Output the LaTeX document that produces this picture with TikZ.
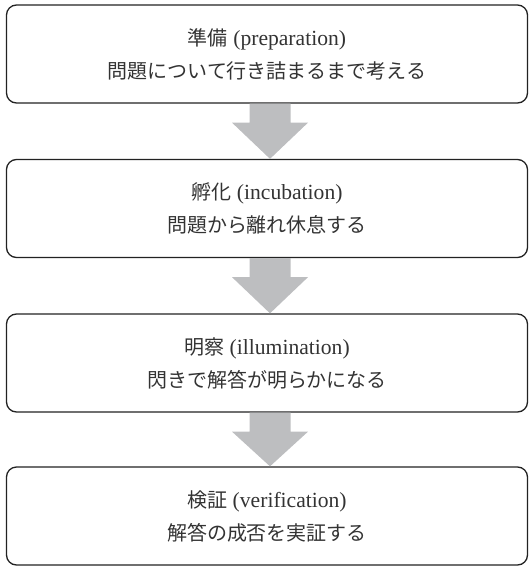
\documentclass[tikz,border=0pt]{standalone}
\usepackage{fontspec}
\setmainfont{Liberation Serif}[Scale=1.08]
\newfontfamily\jp{Noto Sans CJK JP}[Scale=1.0]
\usetikzlibrary{calc}
\definecolor{arrowgray}{HTML}{BDBEC0}
\definecolor{boxline}{HTML}{222222}
\definecolor{txt}{HTML}{333333}
\tikzset{
  stagebox/.style={draw=boxline, line width=1.3pt, rounded corners=10pt,
    minimum width=521pt, minimum height=98pt, inner sep=0pt,
    align=center, text=txt, font=\fontsize{20}{33}\selectfont},
  blockarrow/.style={fill=arrowgray, draw=none}
}
\newcommand{\flowarrow}[2]{%
  \fill[blockarrow] ($(#1.south)+(-17.5pt,0)$) -- ($(#1.south)+(23.5pt,0)$)
    -- ($(#1.south)+(23.5pt,-19pt)$) -- ($(#1.south)+(41pt,-19pt)$)
    -- ($(#2.north)+(3pt,0)$) -- ($(#1.south)+(-35pt,-19pt)$)
    -- ($(#1.south)+(-17.5pt,-19pt)$) -- cycle;}
\begin{document}
\begin{tikzpicture}[x=1pt,y=-1pt]
\useasboundingbox (0,0) rectangle (530,566);
\node[stagebox] (b1) at (267,54) {{\jp 準備} (preparation)\\{\jp 問題について行き詰まるまで考える}};
\node[stagebox] (b2) at (267,208.5) {{\jp 孵化} (incubation)\\{\jp 問題から離れ休息する}};
\node[stagebox] (b3) at (267,363) {{\jp 明察} (illumination)\\{\jp 閃きで解答が明らかになる}};
\node[stagebox] (b4) at (267,516) {{\jp 検証} (verification)\\{\jp 解答の成否を実証する}};
\flowarrow{b1}{b2}
\flowarrow{b2}{b3}
\flowarrow{b3}{b4}
\end{tikzpicture}
\end{document}
